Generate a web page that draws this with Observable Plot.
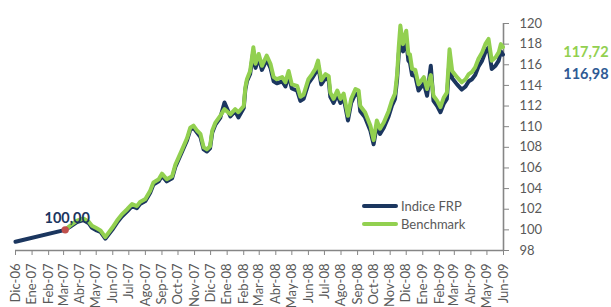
<!DOCTYPE html>
<html><head><meta charset="utf-8">
<script src="https://cdn.jsdelivr.net/npm/d3@7"></script>
<script src="https://cdn.jsdelivr.net/npm/@observablehq/plot@0.6"></script>
<style>
body{margin:0;background:#fff;font-family:Lato,sans-serif;}
#wrap{position:relative;width:611px;height:307px;}
.leg{position:absolute;left:362px;height:16px;line-height:16px;font:13px Lato,sans-serif;color:#595959;display:flex;align-items:center;white-space:nowrap;}
.sw{width:36px;height:4px;margin-right:3px;border-radius:2px;}
</style></head><body><div id="wrap"></div>
<script>
const dates = ["2006-12-01","2007-03-04","2007-03-13","2007-03-26","2007-04-07","2007-04-17","2007-04-23","2007-05-02","2007-05-09","2007-05-18","2007-05-31",
"2007-06-09","2007-06-18","2007-06-28","2007-07-07","2007-07-16","2007-07-22","2007-08-01","2007-08-10","2007-08-16","2007-08-26",
"2007-09-01","2007-09-10","2007-09-20","2007-09-26","2007-10-02","2007-10-08","2007-10-18","2007-10-24","2007-10-30","2007-11-06",
"2007-11-12","2007-11-18","2007-11-24","2007-11-30","2007-12-04","2007-12-10","2007-12-19","2007-12-27","2008-01-07","2008-01-16",
"2008-01-22","2008-02-01","2008-02-04","2008-02-07","2008-02-13","2008-02-19","2008-02-23","2008-02-29","2008-03-06","2008-03-15",
"2008-03-22","2008-03-28","2008-04-03","2008-04-13","2008-04-19","2008-04-25","2008-05-01","2008-05-11","2008-05-17","2008-05-23",
"2008-06-01","2008-06-08","2008-06-14","2008-06-19","2008-06-25","2008-07-03","2008-07-09","2008-07-12","2008-07-18","2008-07-25",
"2008-07-31","2008-08-06","2008-08-14","2008-08-20","2008-08-28","2008-09-03","2008-09-06","2008-09-15","2008-09-25","2008-10-01",
"2008-10-07","2008-10-13","2008-10-20","2008-10-29","2008-11-04","2008-11-10","2008-11-14","2008-11-17","2008-11-20","2008-11-25",
"2008-12-01","2008-12-05","2008-12-08","2008-12-12","2008-12-18","2008-12-24","2009-01-03","2009-01-09","2009-01-16","2009-01-21",
"2009-01-28","2009-02-03","2009-02-09","2009-02-15","2009-02-20","2009-02-25","2009-03-06","2009-03-15","2009-03-22","2009-03-28",
"2009-04-03","2009-04-09","2009-04-15","2009-04-22","2009-04-28","2009-05-04","2009-05-10","2009-05-17","2009-05-23","2009-05-27",
"2009-05-31"];
const frp = [98.85,100.0,100.3,100.75,100.95,100.65,100.2,99.95,99.8,99.15,100.0,
100.7,101.3,101.8,102.3,102.1,102.5,102.8,103.6,104.4,104.7,
105.25,104.7,105.0,106.1,106.8,107.5,108.7,109.7,109.9,109.4,
109.0,107.8,107.6,107.9,109.4,110.2,110.85,112.35,111.0,111.5,
110.9,111.8,113.6,114.4,115.1,117.3,115.7,116.7,115.5,116.5,
115.7,114.4,114.2,114.4,113.9,115.0,113.7,113.5,112.5,112.7,
114.2,114.7,115.2,116.0,114.1,114.7,114.5,112.9,112.3,113.1,
112.3,112.8,110.6,112.3,113.2,113.0,111.5,110.9,109.6,108.3,
110.1,109.3,109.9,111.0,112.0,112.7,114.6,117.0,118.6,117.3,
118.4,116.4,116.2,115.0,114.9,113.5,114.2,113.0,115.9,112.5,
112.0,111.4,112.2,112.7,116.5,114.7,114.1,113.6,113.9,114.4,
114.6,115.0,115.8,116.4,117.2,117.7,115.6,115.9,116.4,117.3,
116.98];
const benchmark = [null,100.0,100.4,100.9,101.1,100.8,100.4,100.15,99.95,99.3,100.2,
100.9,101.5,102.0,102.5,102.3,102.7,103.0,103.8,104.6,104.9,
105.45,104.9,105.2,106.3,107.0,107.7,108.9,109.9,110.1,109.6,
109.3,108.0,107.8,108.1,109.6,110.4,111.05,111.7,111.2,111.7,
111.4,112.0,113.8,114.6,115.4,117.7,116.1,117.05,115.9,116.9,
116.1,114.8,114.6,114.8,114.3,115.4,114.1,113.95,112.9,113.1,
114.6,115.1,115.6,116.4,114.5,115.1,114.9,113.3,112.7,113.5,
112.7,113.2,111.05,112.7,113.65,113.5,112.0,111.4,110.1,108.7,
110.6,109.8,110.4,111.5,112.5,113.2,115.1,117.7,119.8,118.0,
119.3,117.05,117.0,115.6,115.5,114.1,114.8,113.65,115.0,113.0,
112.5,111.9,112.8,113.3,117.5,115.4,114.8,114.3,114.6,115.1,
115.3,115.75,116.55,117.2,118.0,118.5,116.4,116.7,117.2,118.0,
117.72];
const monthLabels = ["Dic-06","Ene-07","Feb-07","Mar-07","Abr-07","May-07","Jun-07","Jul-07","Ago-07","Sep-07","Oct-07","Nov-07",
"Dic-07","Ene-08","Feb-08","Mar-08","Abr-08","May-08","Jun-08","Jul-08","Ago-08","Sep-08","Oct-08","Nov-08",
"Dic-08","Ene-09","Feb-09","Mar-09","Abr-09","May-09","Jun-09"];
const yTicks = [98,100,102,104,106,108,110,112,114,116,118,120];
const seriesNames = ["Indice FRP","Benchmark"];
const colors = {frp:"#1B365F", bench:"#92D050", dot:"#C0504D", frpLabel:"#2F5A94", axis:"#868686", text:"#595959"};

const rows = dates.map((d,i)=>({date:new Date(d+"T00:00:00Z"), frp:frp[i], bench:benchmark[i]}));
const start = new Date("2006-12-01T00:00:00Z"), end = new Date("2009-06-01T00:00:00Z");
const tickDates = d3.utcMonth.range(start, d3.utcDay.offset(end,1));
const labelOf = new Map(tickDates.map((d,i)=>[+d, monthLabels[i]]));
const fmtNum = v => d3.format(".2f")(v).replace(".", ",");
const firstBench = rows.find(d=>d.bench!=null);
const last = rows[rows.length-1];

const chart = Plot.plot({
  width:611, height:307, marginLeft:15, marginRight:108, marginTop:23, marginBottom:57,
  style:{fontFamily:"Lato, sans-serif", fontSize:"13px", color:colors.text, background:"#fff", overflow:"visible"},
  x:{type:"utc", domain:[start,end]},
  y:{domain:[98,120]},
  marks:[
    Plot.ruleY([98], {stroke:colors.axis, strokeWidth:1.4}),
    Plot.ruleX([end], {stroke:colors.axis, strokeWidth:1.6}),
    Plot.axisX({ticks:tickDates, tickFormat:d=>labelOf.get(+d), tickSize:5, tickRotate:-90, tickPadding:8, label:null, color:colors.axis, fontSize:13}),
    Plot.axisY({anchor:"right", ticks:yTicks, tickFormat:d=>String(d), tickSize:5, tickPadding:11, label:null, color:colors.axis, fontSize:13}),
    Plot.line(rows, {x:"date", y:"frp", stroke:colors.frp, strokeWidth:4, strokeLinejoin:"round", strokeLinecap:"round"}),
    Plot.line(rows.filter(d=>d.bench!=null), {x:"date", y:"bench", stroke:colors.bench, strokeWidth:4, strokeLinejoin:"round", strokeLinecap:"round"}),
    Plot.dot([firstBench], {x:"date", y:"frp", r:3.7, fill:colors.dot}),
    Plot.text([firstBench], {x:"date", y:"frp", text:d=>fmtNum(d.frp), dy:-12, dx:2, fill:colors.frp, fontWeight:"bold", fontSize:14.5}),
    Plot.text([last], {x:"date", y:"bench", text:d=>fmtNum(d.bench), dx:83, dy:5, fill:colors.bench, fontWeight:"bold", fontSize:14.5}),
    Plot.text([last], {x:"date", y:"frp", text:d=>fmtNum(d.frp), dx:83, dy:20, fill:colors.frpLabel, fontWeight:"bold", fontSize:14.5})
  ]
});
const svg = d3.select(chart);
svg.selectAll('g[aria-label="x-axis tick label"], g[aria-label="y-axis tick label"]').attr("fill", colors.text);
const wrap = document.getElementById("wrap");
wrap.appendChild(chart);
[[seriesNames[0], colors.frp, 198],[seriesNames[1], colors.bench, 216]].forEach(([name,c,top])=>{
  const el = document.createElement("div");
  el.className = "leg"; el.style.top = top+"px";
  el.innerHTML = `<span class="sw" style="background:${c}"></span><span>${name}</span>`;
  wrap.appendChild(el);
});
</script></body></html>
